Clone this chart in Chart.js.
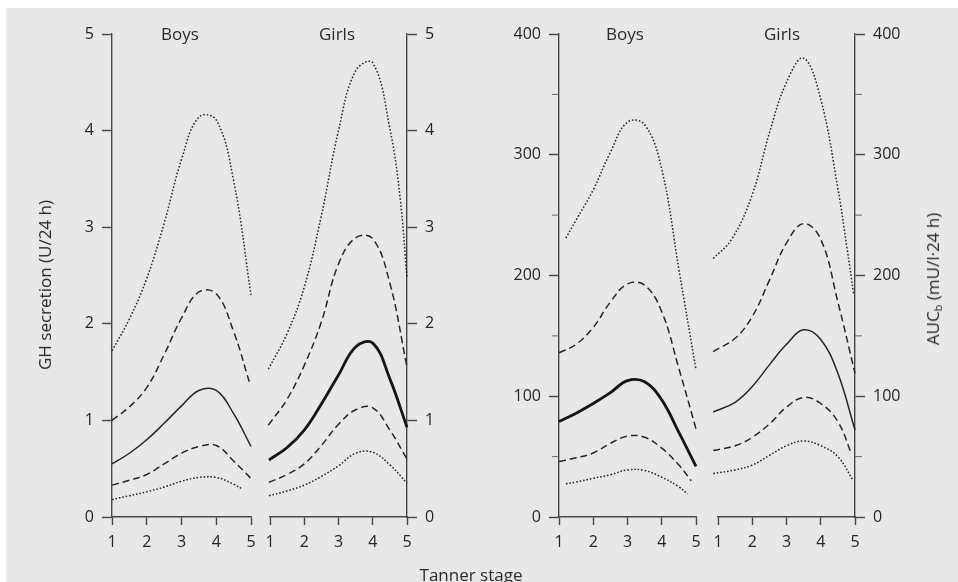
<!DOCTYPE html>
<html>
<head>
<meta charset="utf-8">
<script src="https://cdn.jsdelivr.net/npm/chart.js@4/dist/chart.umd.min.js"></script>
<style>
  html, body { margin: 0; padding: 0; background: #ffffff; }
  #wrap { position: relative; width: 958px; height: 582px; overflow: hidden; }
  #bg { position: absolute; left: 6px; top: 8px; right: 0; bottom: 0; background: #e8e8e8; }
  canvas { position: absolute; left: 0; top: 0; }
  .lbl { position: absolute; font-family: 'Open Sans', sans-serif; font-size: 17px; line-height: 20px;
         color: #2a2a2a; white-space: nowrap; }
  .c { transform: translateX(-50%); }
  .rot { transform: translate(-50%, -50%) rotate(-90deg); }
  sub { font-size: 11px; line-height: 0; vertical-align: -3px; }
</style>
</head>
<body>
<div id="wrap">
  <div id="bg"></div>
  <canvas id="cA" width="958" height="582"></canvas>
  <canvas id="cB" width="958" height="582"></canvas>
  <canvas id="cC" width="958" height="582"></canvas>
  <canvas id="cD" width="958" height="582"></canvas>
  <div class="lbl c" style="left:180px; top:24px;">Boys</div>
  <div class="lbl c" style="left:337px; top:24px;">Girls</div>
  <div class="lbl c" style="left:625px; top:24px;">Boys</div>
  <div class="lbl c" style="left:782px; top:24px;">Girls</div>
  <div class="lbl rot" style="left:45px; top:285px;">GH secretion (U/24 h)</div>
  <div class="lbl rot" style="left:933px; top:279px;">AUC<sub>b</sub> (mU/l·24 h)</div>
  <div class="lbl c" style="left:471px; top:565px;">Tanner stage</div>
</div>
<script>
// ---- tick labels ----
const tannerTicks = [1, 2, 3, 4, 5];
const ghTicks = [0, 1, 2, 3, 4, 5];
const aucTicks = [0, 100, 200, 300, 400];
const aucMinorTicks = [50, 150, 250, 350];

// ---- GH secretion (U/24 h), boys: [Tanner stage, value] ----
const ghBoysUpperDot  = [[1,1.72],[1.5,2.05],[2,2.47],[2.5,3.04],[3,3.7],[3.5,4.14],[4,4.11],[4.5,3.48],[5,2.3]];
const ghBoysUpperDash = [[1,1.0],[1.5,1.14],[2,1.34],[2.5,1.68],[3,2.06],[3.5,2.33],[4,2.31],[4.5,1.92],[4.95,1.4]];
const ghBoysMedian    = [[1,0.55],[1.5,0.66],[2,0.8],[2.5,0.97],[3,1.15],[3.5,1.31],[4,1.31],[4.5,1.07],[5,0.73]];
const ghBoysLowerDash = [[1,0.33],[1.5,0.38],[2,0.44],[2.5,0.55],[3,0.66],[3.5,0.73],[4,0.74],[4.5,0.58],[5,0.4]];
const ghBoysLowerDot  = [[1,0.18],[1.5,0.22],[2,0.26],[2.5,0.31],[3,0.37],[3.5,0.41],[4,0.41],[4.5,0.34],[4.75,0.29]];

// ---- GH secretion (U/24 h), girls ----
const ghGirlsUpperDot  = [[0.95,1.53],[1.5,1.9],[2,2.38],[2.5,3.12],[3,4.0],[3.5,4.62],[4,4.7],[4.5,4.02],[4.8,3.3],[5,2.47]];
const ghGirlsUpperDash = [[0.95,0.95],[1.5,1.22],[2,1.57],[2.5,2.02],[3,2.62],[3.5,2.89],[4,2.88],[4.5,2.42],[5,1.55]];
const ghGirlsMedian    = [[0.97,0.59],[1.5,0.72],[2,0.9],[2.5,1.17],[3,1.47],[3.5,1.76],[4,1.8],[4.5,1.43],[5,0.93]];
const ghGirlsLowerDash = [[0.97,0.36],[1.5,0.44],[2,0.55],[2.5,0.74],[3,0.96],[3.5,1.11],[4,1.13],[4.5,0.9],[5,0.6]];
const ghGirlsLowerDot  = [[0.97,0.22],[1.5,0.27],[2,0.33],[2.5,0.42],[3,0.53],[3.5,0.66],[4,0.67],[4.5,0.54],[5,0.35]];

// ---- AUCb (mU/l·24 h), boys ----
const aucBoysUpperDot  = [[1.2,231],[1.5,246],[2,271],[2.5,302],[3,327],[3.5,325],[4,288],[4.5,205],[5,122]];
const aucBoysUpperDash = [[1,136],[1.5,143],[2,157],[2.5,178],[3,193],[3.5,192],[4,170],[4.5,123],[5,73]];
const aucBoysMedian    = [[1,79],[1.5,86],[2,94],[2.5,103],[3,113],[3.5,112],[4,97],[4.5,70],[5,42]];
const aucBoysLowerDash = [[1,46],[1.5,49],[2,53],[2.5,61],[3,67],[3.5,66],[4,57],[4.5,43],[4.86,30]];
const aucBoysLowerDot  = [[1.2,27.5],[1.5,29],[2,32],[2.5,35],[3,39],[3.5,38.5],[4,33],[4.5,25],[4.75,19]];

// ---- AUCb (mU/l·24 h), girls ----
const aucGirlsUpperDot  = [[0.86,214],[1.4,230],[2,267],[2.5,318],[3,360],[3.5,380],[4,346],[4.5,272],[4.76,224],[4.96,185]];
const aucGirlsUpperDash = [[0.86,137],[1.5,148],[2,166],[2.5,196],[3,227],[3.5,243],[4,230],[4.5,178],[5,119]];
const aucGirlsMedian    = [[0.86,87],[1.5,95],[2,108],[2.5,126],[3,143],[3.5,155],[4,147],[4.5,119],[5,72]];
const aucGirlsLowerDash = [[0.86,55],[1.5,59],[2,66],[2.5,77],[3,91],[3.5,99],[4,94],[4.5,79],[4.9,52]];
const aucGirlsLowerDot  = [[0.86,36],[1.5,39],[2,43],[2.5,51],[3,59],[3.5,63],[4,59],[4.5,50],[4.95,30]];

const AXIS = '#474747';
const INK = '#262626';
const FONT = { family: "'Open Sans', sans-serif", size: 16 };

function ds(points, kind, width) {
  const base = { data: points, borderColor: INK, pointRadius: 0, fill: false,
                 tension: 0.4, clip: 8, borderCapStyle: 'butt' };
  if (kind === 'dot')  return Object.assign(base, { borderDash: [1.6, 1.9], borderWidth: 1.5 });
  if (kind === 'dash') return Object.assign(base, { borderDash: [7, 4], borderWidth: 1.5 });
  return Object.assign(base, { borderWidth: width, borderColor: width > 2 ? '#141414' : INK });
}

const minorTickPlugin = {
  id: 'minorTicks',
  afterDraw(chart, args, opts) {
    if (!opts || !opts.values) return;
    const s = chart.scales.y, ctx = chart.ctx, a = chart.chartArea;
    ctx.save();
    ctx.strokeStyle = '#666';
    ctx.lineWidth = 1;
    opts.values.forEach(v => {
      const y = s.getPixelForValue(v);
      ctx.beginPath();
      if (s.position === 'left') { ctx.moveTo(a.left - 7, y); ctx.lineTo(a.left, y); }
      else { ctx.moveTo(a.right, y); ctx.lineTo(a.right + 7, y); }
      ctx.stroke();
    });
    ctx.restore();
  }
};

function panel(id, series, medianWidth, yMax, yTicks, yPos, padL, padR, minor) {
  const datasets = [
    ds(series[0], 'dot'), ds(series[4], 'dot'),
    ds(series[1], 'dash'), ds(series[3], 'dash'),
    ds(series[2], 'solid', medianWidth)
  ];
  return new Chart(document.getElementById(id), {
    type: 'line',
    data: { datasets },
    plugins: minor ? [minorTickPlugin] : [],
    options: {
      responsive: false, animation: false, events: [],
      layout: { padding: { left: padL, right: padR, top: 34, bottom: 25 } },
      plugins: { legend: { display: false }, tooltip: { enabled: false }, title: { display: false },
                 minorTicks: minor ? { values: aucMinorTicks } : {} },
      scales: {
        x: {
          type: 'linear', min: 1, max: 5,
          afterBuildTicks: s => { s.ticks = tannerTicks.map(v => ({ value: v })); },
          afterFit: s => { s.height = 40; },
          ticks: { font: FONT, color: '#262626', padding: 8, maxRotation: 0, autoSkip: false },
          grid: { drawOnChartArea: false, drawTicks: true, tickLength: 8, tickColor: AXIS, tickWidth: 1.4 },
          border: { display: true, color: AXIS, width: 1.4 }
        },
        y: {
          type: 'linear', position: yPos, min: 0, max: yMax,
          afterBuildTicks: s => { s.ticks = yTicks.map(v => ({ value: v })); },
          afterFit: s => { s.width = 60; },
          ticks: { font: FONT, color: '#262626', padding: 8, autoSkip: false },
          grid: { drawOnChartArea: false, drawTicks: true, tickLength: 10, tickColor: AXIS, tickWidth: 1.4 },
          border: { display: true, color: AXIS, width: 1.4 }
        }
      }
    }
  });
}

function build() {
  // chart areas: A 112-251, B 270-407, C 559-696, D 718-855 ; top 34, bottom 517
  panel('cA', [ghBoysUpperDot, ghBoysUpperDash, ghBoysMedian, ghBoysLowerDash, ghBoysLowerDot],
        1.5, 5, ghTicks, 'left', 52, 707, false);
  panel('cB', [ghGirlsUpperDot, ghGirlsUpperDash, ghGirlsMedian, ghGirlsLowerDash, ghGirlsLowerDot],
        2.8, 5, ghTicks, 'right', 270, 491, false);
  panel('cC', [aucBoysUpperDot, aucBoysUpperDash, aucBoysMedian, aucBoysLowerDash, aucBoysLowerDot],
        2.8, 400, aucTicks, 'left', 499, 262, true);
  panel('cD', [aucGirlsUpperDot, aucGirlsUpperDash, aucGirlsMedian, aucGirlsLowerDash, aucGirlsLowerDot],
        1.5, 400, aucTicks, 'right', 718, 43, true);
}

if (document.fonts && document.fonts.load) {
  document.fonts.load("16px 'Open Sans'").then(build, build);
} else {
  build();
}
</script>
</body>
</html>
